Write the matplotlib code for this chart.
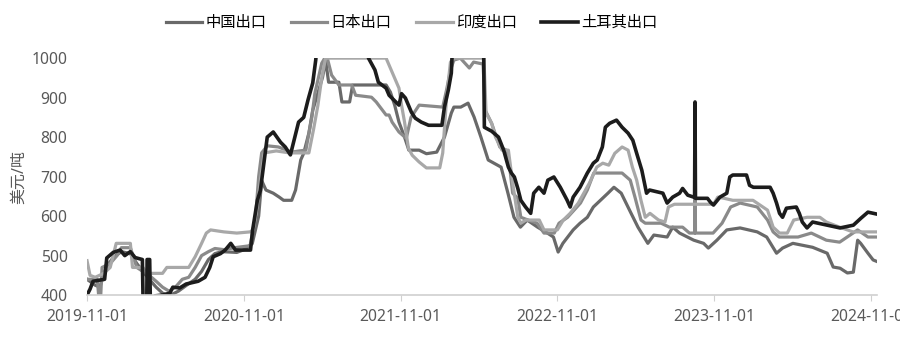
import pandas as pd
import matplotlib.pyplot as plt

# 字体: 数字用 Noto Sans, 中文回退到 Noto Sans CJK SC
plt.rcParams['font.family'] = ['Noto Sans', 'Noto Sans CJK SC', 'DejaVu Sans']

# 数据 (日期, 美元/吨)
china = [('2019-11-01', 440), ('2019-11-20', 425), ('2019-12-01', 420), ('2019-12-15', 470),
         ('2020-01-01', 495), ('2020-01-20', 510), ('2020-02-10', 505), ('2020-02-25', 480),
         ('2020-03-10', 460), ('2020-03-25', 440), ('2020-04-10', 420), ('2020-04-25', 405),
         ('2020-05-10', 398), ('2020-06-01', 410), ('2020-06-20', 425), ('2020-07-10', 440),
         ('2020-07-25', 460), ('2020-08-10', 490), ('2020-08-25', 505), ('2020-09-10', 510),
         ('2020-10-15', 508), ('2020-11-01', 515), ('2020-11-20', 530), ('2020-12-05', 600),
         ('2020-12-12', 690), ('2020-12-22', 666), ('2021-01-08', 658), ('2021-01-22', 648),
         ('2021-02-01', 640), ('2021-02-20', 640), ('2021-03-01', 666), ('2021-03-13', 742),
         ('2021-03-20', 759), ('2021-04-01', 810), ('2021-04-10', 868), ('2021-04-22', 911),
         ('2021-05-03', 952), ('2021-05-10', 995), ('2021-05-17', 939), ('2021-06-10', 939),
         ('2021-06-17', 889), ('2021-07-05', 889), ('2021-07-12', 932), ('2021-09-28', 932),
         ('2021-10-08', 914), ('2021-10-18', 881), ('2021-10-28', 838), ('2021-11-10', 800),
         ('2021-11-20', 767), ('2021-12-14', 767), ('2021-12-31', 758), ('2022-01-24', 762),
         ('2022-02-11', 800), ('2022-02-27', 861), ('2022-03-05', 876), ('2022-03-21', 876),
         ('2022-04-07', 886), ('2022-04-21', 851), ('2022-05-07', 800), ('2022-05-24', 742),
         ('2022-06-23', 724), ('2022-07-09', 658), ('2022-07-23', 597), ('2022-08-07', 572),
         ('2022-08-23', 590), ('2022-09-16', 572), ('2022-10-09', 557), ('2022-10-23', 547),
         ('2022-11-03', 509), ('2022-11-14', 531), ('2022-12-08', 565), ('2022-12-24', 582),
         ('2023-01-10', 597), ('2023-01-24', 623), ('2023-02-27', 658), ('2023-03-13', 673),
         ('2023-03-30', 658), ('2023-04-22', 607), ('2023-05-08', 572), ('2023-05-31', 531),
         ('2023-06-14', 552), ('2023-07-15', 547), ('2023-07-28', 572), ('2023-08-13', 557),
         ('2023-09-15', 539), ('2023-10-08', 531), ('2023-10-19', 519), ('2023-11-08', 539),
         ('2023-12-01', 565), ('2024-01-01', 570), ('2024-02-10', 560), ('2024-03-03', 547),
         ('2024-03-26', 506), ('2024-04-09', 519), ('2024-05-03', 531), ('2024-06-18', 521),
         ('2024-07-22', 506), ('2024-08-05', 471), ('2024-08-21', 468), ('2024-09-07', 456),
         ('2024-09-21', 458), ('2024-10-01', 539), ('2024-10-08', 531), ('2024-10-25', 506),
         ('2024-11-06', 489), ('2024-11-15', 485)]

japan = [('2019-11-01', 440), ('2019-11-25', 440), ('2019-11-28', 400), ('2019-12-03', 400),
         ('2019-12-06', 470), ('2019-12-25', 480), ('2020-01-10', 500), ('2020-01-20', 520),
         ('2020-02-10', 520), ('2020-02-25', 470), ('2020-03-10', 460), ('2020-03-25', 450),
         ('2020-04-10', 435), ('2020-04-25', 420), ('2020-05-10', 410), ('2020-05-25', 420),
         ('2020-06-10', 440), ('2020-06-25', 445), ('2020-07-10', 470), ('2020-07-25', 500),
         ('2020-08-10', 510), ('2020-08-25', 518), ('2020-09-15', 515), ('2020-10-10', 520),
         ('2020-11-15', 525), ('2020-11-28', 600), ('2020-12-05', 700), ('2020-12-12', 760),
         ('2020-12-25', 778), ('2021-01-20', 775), ('2021-02-20', 762), ('2021-03-10', 765),
         ('2021-03-25', 767), ('2021-04-08', 851), ('2021-04-15', 911), ('2021-05-01', 987),
         ('2021-05-08', 1000), ('2021-05-14', 1000), ('2021-05-24', 957), ('2021-06-10', 932),
         ('2021-07-10', 932), ('2021-07-19', 906), ('2021-08-25', 901), ('2021-09-05', 889),
         ('2021-09-28', 856), ('2021-10-05', 856), ('2021-10-12', 838), ('2021-10-28', 813),
         ('2021-11-14', 797), ('2021-11-25', 850), ('2021-12-14', 881), ('2022-02-07', 876),
         ('2022-02-16', 920), ('2022-02-25', 970), ('2022-03-05', 995), ('2022-03-20', 1000),
         ('2022-04-10', 975), ('2022-04-20', 990), ('2022-05-12', 985), ('2022-05-17', 868),
         ('2022-06-01', 835), ('2022-06-12', 800), ('2022-06-20', 775), ('2022-07-05', 767),
         ('2022-07-12', 734), ('2022-07-20', 658), ('2022-08-01', 645), ('2022-08-08', 597),
         ('2022-08-25', 590), ('2022-09-15', 582), ('2022-10-01', 557), ('2022-10-25', 557),
         ('2022-11-05', 582), ('2022-11-25', 597), ('2022-12-10', 615), ('2022-12-25', 633),
         ('2023-01-10', 666), ('2023-01-25', 709), ('2023-04-01', 709), ('2023-04-20', 691),
         ('2023-05-01', 648), ('2023-05-15', 590), ('2023-05-25', 582), ('2023-07-01', 582),
         ('2023-07-20', 572), ('2023-08-20', 572), ('2023-09-05', 557), ('2023-09-17', 557),
         ('2023-09-18', 823), ('2023-09-19', 557), ('2023-10-30', 557), ('2023-11-20', 582),
         ('2023-12-10', 623), ('2024-01-01', 633), ('2024-02-10', 623), ('2024-03-05', 590),
         ('2024-03-18', 560), ('2024-04-01', 547), ('2024-05-15', 547), ('2024-06-15', 557),
         ('2024-07-20', 539), ('2024-08-20', 534), ('2024-10-01', 565), ('2024-10-25', 547),
         ('2024-11-15', 547)]

india = [('2019-11-01', 487), ('2019-11-08', 450), ('2019-11-20', 445), ('2019-12-10', 455),
         ('2019-12-25', 470), ('2020-01-08', 531), ('2020-02-10', 531), ('2020-02-15', 470),
         ('2020-03-10', 470), ('2020-03-20', 455), ('2020-04-25', 455), ('2020-05-05', 470),
         ('2020-06-25', 470), ('2020-07-10', 497), ('2020-07-25', 531), ('2020-08-05', 557),
         ('2020-08-15', 565), ('2020-09-15', 560), ('2020-10-15', 557), ('2020-11-15', 560),
         ('2020-11-22', 565), ('2020-12-01', 620), ('2020-12-10', 700), ('2020-12-18', 760),
         ('2021-01-15', 765), ('2021-02-15', 760), ('2021-04-01', 760), ('2021-04-12', 820),
         ('2021-04-22', 880), ('2021-05-01', 950), ('2021-05-10', 1000), ('2021-09-28', 1000),
         ('2021-10-28', 924), ('2021-11-03', 881), ('2021-11-10', 838), ('2021-11-19', 772),
         ('2021-11-28', 754), ('2021-12-14', 737), ('2021-12-31', 722), ('2022-01-31', 722),
         ('2022-02-07', 760), ('2022-02-16', 900), ('2022-02-25', 990), ('2022-03-05', 1000),
         ('2022-05-14', 1000), ('2022-05-19', 861), ('2022-06-01', 835), ('2022-06-10', 800),
         ('2022-06-25', 767), ('2022-07-10', 767), ('2022-07-20', 684), ('2022-08-01', 597),
         ('2022-08-08', 582), ('2022-08-20', 590), ('2022-09-20', 590), ('2022-10-01', 565),
         ('2022-11-01', 565), ('2022-11-15', 590), ('2022-12-01', 607), ('2022-12-20', 633),
         ('2023-01-15', 684), ('2023-02-01', 724), ('2023-02-15', 734), ('2023-03-01', 729),
         ('2023-03-15', 759), ('2023-04-01', 775), ('2023-04-15', 767), ('2023-04-25', 724),
         ('2023-05-05', 691), ('2023-05-15', 640), ('2023-05-25', 597), ('2023-06-05', 607),
         ('2023-06-25', 590), ('2023-07-10', 585), ('2023-07-18', 623), ('2023-08-01', 630),
         ('2023-10-31', 630), ('2023-11-10', 648), ('2023-11-25', 645), ('2023-12-15', 640),
         ('2024-01-31', 640), ('2024-03-05', 615), ('2024-03-18', 572), ('2024-04-02', 557),
         ('2024-04-20', 557), ('2024-05-05', 590), ('2024-06-05', 597), ('2024-07-05', 597),
         ('2024-07-20', 585), ('2024-08-20', 572), ('2024-09-20', 560), ('2024-11-15', 560)]

turkey = [('2019-11-01', 400), ('2019-11-08', 415), ('2019-11-15', 435), ('2019-12-12', 440),
          ('2019-12-17', 494), ('2020-01-01', 508), ('2020-01-17', 514), ('2020-01-28', 500),
          ('2020-02-10', 510), ('2020-02-21', 495), ('2020-03-09', 490), ('2020-03-11', 360),
          ('2020-03-19', 360), ('2020-03-20', 490), ('2020-03-26', 490), ('2020-03-28', 360),
          ('2020-04-05', 360), ('2020-04-07', 398), ('2020-04-25', 400), ('2020-05-12', 405),
          ('2020-05-19', 420), ('2020-06-04', 418), ('2020-06-19', 428), ('2020-07-17', 435),
          ('2020-08-02', 445), ('2020-08-13', 470), ('2020-08-21', 497), ('2020-09-07', 505),
          ('2020-09-18', 514), ('2020-10-01', 531), ('2020-10-12', 514), ('2020-11-16', 514),
          ('2020-11-21', 565), ('2020-12-02', 640), ('2020-12-09', 665), ('2020-12-16', 724),
          ('2020-12-25', 800), ('2021-01-08', 813), ('2021-01-25', 787), ('2021-02-05', 775),
          ('2021-02-17', 755), ('2021-03-08', 838), ('2021-03-20', 850), ('2021-03-30', 894),
          ('2021-04-10', 937), ('2021-04-17', 995), ('2021-04-22', 1060), ('2021-08-15', 1060),
          ('2021-08-18', 1000), ('2021-09-02', 970), ('2021-09-10', 939), ('2021-09-28', 924),
          ('2021-10-05', 906), ('2021-10-28', 881), ('2021-11-03', 910), ('2021-11-12', 899),
          ('2021-11-26', 863), ('2021-12-05', 848), ('2021-12-19', 838), ('2022-01-05', 830),
          ('2022-02-05', 830), ('2022-02-11', 876), ('2022-02-20', 919), ('2022-02-27', 962),
          ('2022-03-03', 1060), ('2022-05-13', 1060), ('2022-05-15', 825), ('2022-06-01', 815),
          ('2022-06-17', 800), ('2022-06-29', 767), ('2022-07-10', 724), ('2022-07-17', 709),
          ('2022-07-24', 699), ('2022-08-01', 670), ('2022-08-08', 640), ('2022-08-19', 623),
          ('2022-08-31', 607), ('2022-09-07', 658), ('2022-09-19', 673), ('2022-10-01', 658),
          ('2022-10-10', 691), ('2022-10-24', 699), ('2022-11-08', 673), ('2022-11-24', 640),
          ('2022-12-01', 623), ('2022-12-08', 648), ('2022-12-24', 673), ('2023-01-10', 709),
          ('2023-01-24', 734), ('2023-02-02', 742), ('2023-02-14', 775), ('2023-02-21', 825),
          ('2023-03-03', 835), ('2023-03-19', 843), ('2023-04-01', 825), ('2023-04-15', 810),
          ('2023-04-26', 792), ('2023-05-05', 759), ('2023-05-17', 716), ('2023-05-28', 658),
          ('2023-06-04', 666), ('2023-07-05', 658), ('2023-07-15', 633), ('2023-07-28', 648),
          ('2023-08-13', 658), ('2023-08-20', 670), ('2023-09-01', 653), ('2023-09-15', 648),
          ('2023-09-17', 648), ('2023-09-18', 889), ('2023-09-19', 645), ('2023-10-17', 645),
          ('2023-10-24', 635), ('2023-10-31', 628), ('2023-11-15', 648), ('2023-12-01', 658),
          ('2023-12-08', 699), ('2023-12-15', 704), ('2024-01-16', 704), ('2024-01-23', 678),
          ('2024-02-01', 673), ('2024-03-11', 673), ('2024-03-18', 658), ('2024-03-26', 633),
          ('2024-04-02', 607), ('2024-04-09', 597), ('2024-04-18', 620), ('2024-05-11', 623),
          ('2024-05-18', 607), ('2024-05-25', 585), ('2024-06-05', 570), ('2024-06-18', 585),
          ('2024-07-22', 577), ('2024-08-21', 570), ('2024-09-21', 577), ('2024-10-09', 595),
          ('2024-10-25', 610), ('2024-11-06', 607), ('2024-11-15', 605)]

x_ticks = ['2019-11-01', '2020-11-01', '2021-11-01', '2022-11-01', '2023-11-01', '2024-11-01']

series = [('中国出口', china, '#696969', 2.3),
          ('日本出口', japan, '#8a8a8a', 2.3),
          ('印度出口', india, '#a8a8a8', 2.3),
          ('土耳其出口', turkey, '#1c1c1c', 2.6)]

fig, ax = plt.subplots(figsize=(9, 3.38), dpi=100)
fig.subplots_adjust(left=0.0967, right=0.9744, bottom=0.127, top=0.828)

for name, data, color, lw in series:
    d = pd.to_datetime([p[0] for p in data])
    v = [p[1] for p in data]
    ax.plot(d, v, color=color, linewidth=lw, label=name)

ax.set_ylim(400, 1000)
ax.set_yticks(range(400, 1001, 100))
ax.set_xlim(pd.Timestamp('2019-11-01'), pd.Timestamp('2024-11-15'))
ax.set_xticks(pd.to_datetime(x_ticks))
ax.set_xticklabels(x_ticks)

for s in ['top', 'right', 'left']:
    ax.spines[s].set_visible(False)
ax.spines['bottom'].set_color('#d0d0d0')
ax.spines['bottom'].set_linewidth(1.2)
ax.tick_params(axis='x', length=4, color='#d0d0d0', labelsize=11.3, labelcolor='#595959', pad=6)
ax.tick_params(axis='y', length=0, labelsize=11.3, labelcolor='#595959', pad=14)

ax.set_ylabel('美元/吨', fontsize=11.5, color='#595959')
ax.yaxis.set_label_coords(-0.076, 0.5)

fig.legend(loc='center', bbox_to_anchor=(0.457, 0.93), ncol=4, frameon=False,
           fontsize=11, handlelength=2.4, handletextpad=0.2, columnspacing=1.6)

plt.savefig('out.png')
